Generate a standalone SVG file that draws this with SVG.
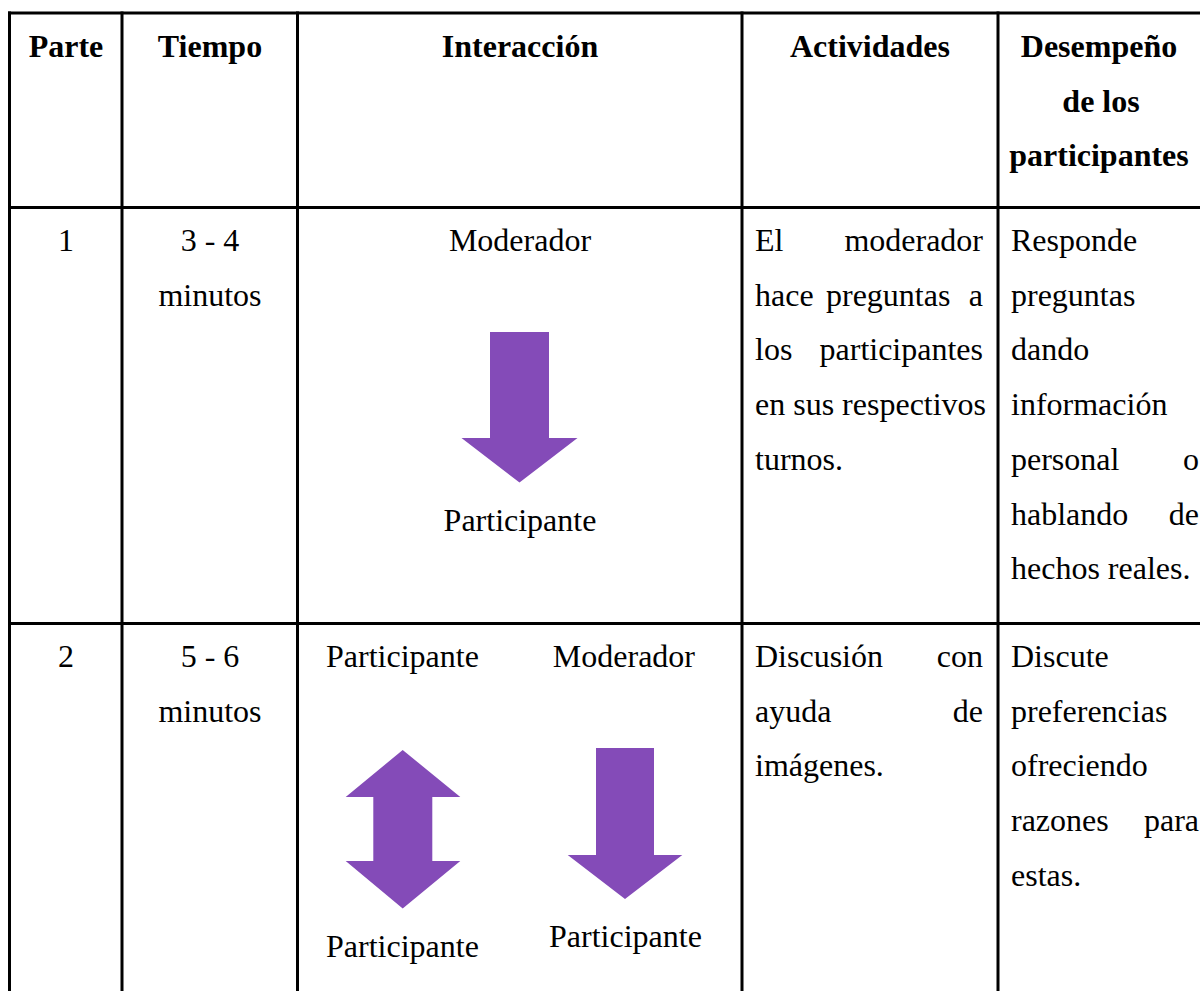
<svg xmlns="http://www.w3.org/2000/svg" width="1200" height="991" viewBox="0 0 1200 991">
<style>
  text { font-size: 32px; fill: #000; }
  .b { font-weight: bold; }
  .c { text-anchor: middle; }
  .e { text-anchor: end; }
  .grid line { stroke: #000; stroke-width: 3; }
  .arrow { fill: #844BB8; }
</style>
<rect width="1200" height="991" fill="#fff"/>
<g id="grid" class="grid">
  <line x1="8" y1="13" x2="1200" y2="13"/>
  <line x1="8" y1="207.5" x2="1200" y2="207.5"/>
  <line x1="8" y1="623.5" x2="1200" y2="623.5"/>
  <line x1="9.5" y1="11.5" x2="9.5" y2="991"/>
  <line x1="122" y1="11.5" x2="122" y2="991"/>
  <line x1="297.5" y1="11.5" x2="297.5" y2="991"/>
  <line x1="742" y1="11.5" x2="742" y2="991"/>
  <line x1="998" y1="11.5" x2="998" y2="991"/>
</g>
<g font-family="Liberation Serif">
<g id="header">
  <text class="b c" x="66" y="57">Parte</text>
  <text class="b c" x="210" y="57">Tiempo</text>
  <text class="b c" x="520" y="57">Interacción</text>
  <text class="b c" x="870" y="57">Actividades</text>
  <text class="b c" x="1099" y="57">Desempeño</text>
  <text class="b c" x="1101" y="111.7">de los</text>
  <text class="b c" x="1099" y="166.4">participantes</text>
</g>
<g id="row1">
  <text class="c" x="66" y="251">1</text>
  <text class="c" x="210" y="251">3 - 4</text>
  <text class="c" x="210" y="305.7">minutos</text>
  <text class="c" x="520" y="251">Moderador</text>
  <text class="c" x="520" y="531">Participante</text>
  <text x="755" y="251">El</text><text class="e" x="983" y="251">moderador</text>
  <text x="755" y="305.7">hace</text><text x="826" y="305.7">preguntas</text><text class="e" x="983" y="305.7">a</text>
  <text x="755" y="360.4">los</text><text class="e" x="983" y="360.4">participantes</text>
  <text x="755" y="415">en sus respectivos</text>
  <text x="755" y="469.8">turnos.</text>
  <text x="1011" y="251">Responde</text>
  <text x="1011" y="305.7">preguntas</text>
  <text x="1011" y="360.4">dando</text>
  <text x="1011" y="415">información</text>
  <text x="1011" y="469.8">personal</text><text class="e" x="1199" y="469.8">o</text>
  <text x="1011" y="524.5">hablando</text><text class="e" x="1199" y="524.5">de</text>
  <text x="1011" y="579.2">hechos reales.</text>
</g>
<g id="row2">
  <text class="c" x="66" y="667">2</text>
  <text class="c" x="210" y="667">5 - 6</text>
  <text class="c" x="210" y="721.7">minutos</text>
  <text x="326" y="667">Participante</text>
  <text class="e" x="695" y="667">Moderador</text>
  <text x="326" y="957">Participante</text>
  <text x="549" y="947">Participante</text>
  <text x="755" y="667">Discusión</text><text class="e" x="983" y="667">con</text>
  <text x="755" y="721.7">ayuda</text><text class="e" x="983" y="721.7">de</text>
  <text x="755" y="776.4">imágenes.</text>
  <text x="1011" y="667">Discute</text>
  <text x="1011" y="721.7">preferencias</text>
  <text x="1011" y="776.4">ofreciendo</text>
  <text x="1011" y="831">razones</text><text class="e" x="1199" y="831">para</text>
  <text x="1011" y="885.8">estas.</text>
</g>
</g>
<g id="connectors">
  <polygon class="arrow" points="490,332 549,332 549,438 577.5,438 519.5,482.5 461.5,438 490,438"/>
  <polygon class="arrow" points="402.7,750 460.3,797 432.3,797 432.3,861 460.3,861 402.7,908.5 345.7,861 373.3,861 373.3,797 345.7,797"/>
  <polygon class="arrow" points="596,748 654,748 654,855 682.3,855 625,899 567.7,855 596,855"/>
</g>
</svg>
